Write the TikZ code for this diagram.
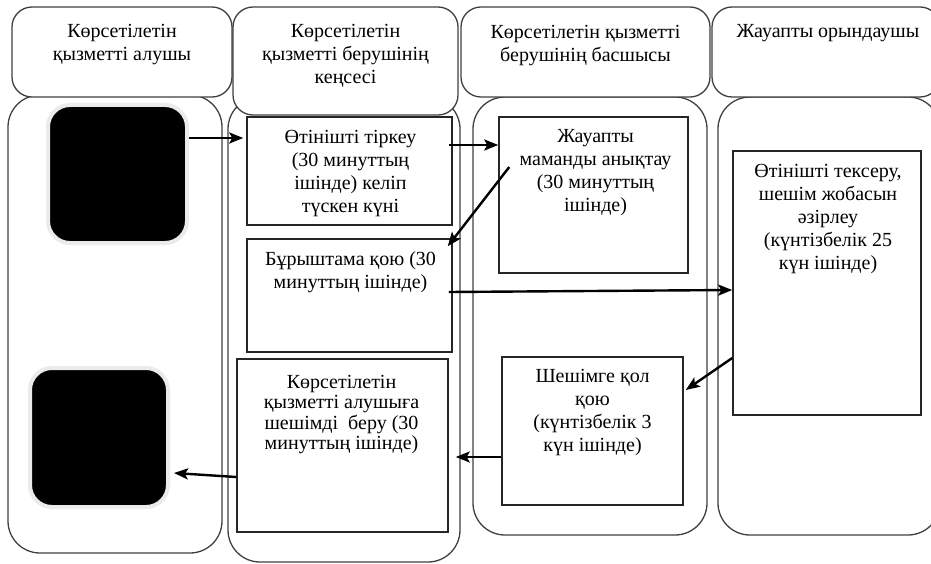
\documentclass[tikz,border=0pt]{standalone}
\usepackage{fontspec}
\setmainfont{Liberation Serif}
\usetikzlibrary{arrows.meta,calc}
\begin{document}
\begin{tikzpicture}[x=1pt,y=-1pt,
  lane/.style={draw=black!75, line width=1.3pt, rounded corners=32pt, fill=white, inner sep=0pt},
  head/.style={draw=black!75, line width=1.3pt, rounded corners=20pt, fill=white, inner sep=0pt},
  box/.style={draw=black!85, line width=1.5pt, fill=white, inner sep=0pt},
  blk/.style={fill=black, draw=black!8, line width=4pt, rounded corners=22pt, inner sep=0pt},
  txt/.style={anchor=north, inner sep=0pt, align=center, font=\fontsize{20}{23}\selectfont},
  arr/.style={line width=2.4pt, -{Stealth[length=14pt,width=11pt,inset=3pt]}}]
\useasboundingbox (0,0) rectangle (931,564);
% lanes
\node[lane, minimum width=214pt, minimum height=458pt] (L1) at (115,324) {};
\node[lane, minimum width=232pt, minimum height=465pt] (L2) at (344,329.5) {};
\node[lane, minimum width=234pt, minimum height=438pt] (L3) at (590,316) {};
\node[lane, minimum width=222pt, minimum height=438pt] (L4) at (829,316) {};
% headers
\node[head, minimum width=220pt, minimum height=90pt] (H1) at (122,52) {};
\node[head, minimum width=225pt, minimum height=108pt] (H2) at (345.5,61) {};
\node[head, minimum width=249pt, minimum height=90pt] (H3) at (585.5,52) {};
\node[head, minimum width=228pt, minimum height=90pt] (H4) at (826,52) {};
\node[txt] (tH1) at ($(H1.north)+(0,15)$) {\strut Көрсетілетін\\қызметті алушы};
\node[txt] (tH2) at ($(H2.north)+(0,15)$) {\strut Көрсетілетін\\қызметті берушінің\\кеңсесі};
\node[txt] (tH3) at ($(H3.north)+(0,16)$) {\strut Көрсетілетін қызметті\\берушінің басшысы};
\node[txt] (tH4) at ($(H4.north)+(2,15)$) {\strut Жауапты орындаушы};
% black boxes
\node[blk, minimum width=139pt, minimum height=138pt] (K1) at (117.5,174) {};
\node[blk, minimum width=138pt, minimum height=139pt] (K2) at (99,437.5) {};
% process boxes
\node[box, minimum width=205pt, minimum height=108pt] (B1) at (349.5,171) {};
\node[box, minimum width=205pt, minimum height=113pt] (B2) at (349.5,295.5) {};
\node[box, minimum width=211pt, minimum height=173pt] (B3) at (342.5,445.5) {};
\node[box, minimum width=189pt, minimum height=156pt] (C1) at (593.5,195) {};
\node[box, minimum width=181pt, minimum height=148pt] (C2) at (592.5,431) {};
\node[box, minimum width=188pt, minimum height=264pt] (D1) at (827,283) {};
\node[txt] (tB1) at ($(B1.north)+(1,11)$) {\strut Өтінішті тіркеу\\(30 минуттың\\ішінде) келіп\\түскен күні};
\node[txt] (tB2) at ($(B2.north)+(1,11)$) {\strut Бұрыштама қою (30\\минуттың ішінде)};
\node[txt, font=\fontsize{20}{20.5}\selectfont] (tB3) at ($(B3.north)+(-1,15.6)$) {\strut Көрсетілетін\\қызметті алушыға\\шешімді\ \ беру (30\\минуттың ішінде)};
\node[txt] (tC1) at ($(C1.north)+(2,10)$) {\strut Жауапты\\маманды анықтау\\(30 минуттың\\ішінде)};
\node[txt] (tC2) at ($(C2.north)+(0,10)$) {\strut Шешімге қол\\қою\\(күнтізбелік 3\\күн ішінде)};
\node[txt] (tD1) at ($(D1.north)+(1,11)$) {\strut Өтінішті тексеру,\\шешім жобасын\\әзірлеу\\(күнтізбелік 25\\күн ішінде)};
% arrows
\draw[arr] (K1.east |- 0,138) -- ($(B1.west |- 0,138)+(-3,0)$);
\draw[arr] ($(B1.east |- 0,145)+(-4,0)$) -- (C1.west |- 0,145);
\draw[arr] ($(C1.west |- 0,167)+(11,0)$) -- ($(B2.north east)+(-5,8)$);
\draw[arr] ($(B2.east |- 0,292)+(-4,0)$) -- (D1.west |- 0,290);
\draw[arr] (D1.west |- 0,358) -- ($(C2.east |- 0,390)+(2,0)$);
\draw[arr] (C2.west |- 0,457) -- ($(B3.east |- 0,457)+(7,0)$);
\draw[arr] (B3.west |- 0,477) -- ($(K2.east |- 0,473)+(4,0)$);
\end{tikzpicture}
\end{document}
